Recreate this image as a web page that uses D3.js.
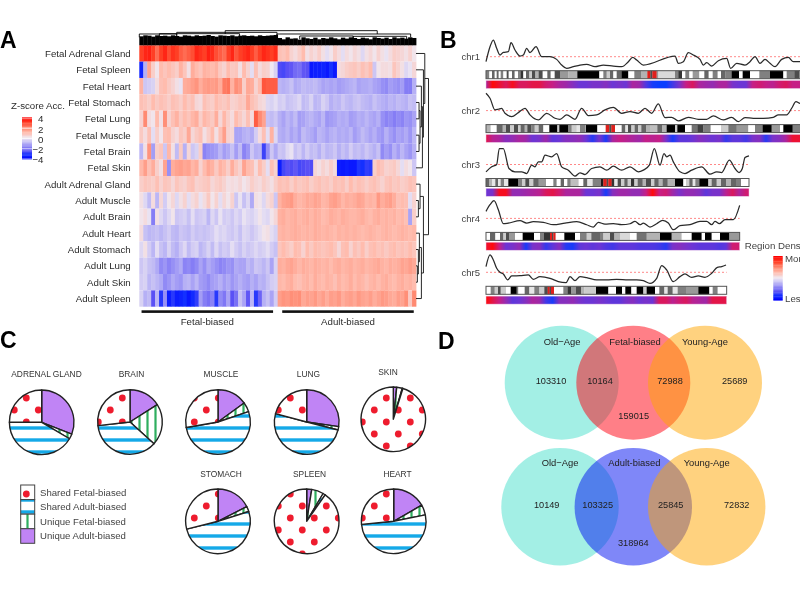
<!DOCTYPE html>
<html><head><meta charset="utf-8">
<script src="https://d3js.org/d3.v7.min.js"></script>
<style>html,body{margin:0;padding:0;background:#fff}svg{display:block;filter:blur(.45px)}text{font-family:"Liberation Sans",Arial,sans-serif}</style>
</head><body><svg id="c" width="800" height="600"></svg>
<script>
// ---------- Panel A data ----------
const tissueRows=["Fetal Adrenal Gland","Fetal Spleen","Fetal Heart","Fetal Stomach","Fetal Lung","Fetal Muscle","Fetal Brain","Fetal Skin","Adult Adrenal Gland","Adult Muscle","Adult Brain","Adult Heart","Adult Stomach","Adult Lung","Adult Skin","Adult Spleen"];
const zFetalAdrenal=[3,3.4,3.5,3,2.4,3,3.4,2.8,3.2,3,2.6,2.4,2.6,2.8,3.4,3.2,3,3.5,3.3,2.8,2.6,2.4,3,3.4,2.7,3,3.2,3.4,3,2.6,3,3.4,3.2,3,3.3,.9,.8,1,.5,.3,.6,1,.2,.5,.3,.6,.2,-.2,.1,.6,.3,-.2,.3,.1,.4,.2,-.3,.2,.4,.1,.5,.2,-.1,.3,.6,.5,.4,.2,.5,.1];
const zFetalSpleen=[-3.4,-1,1.5,.6,.1,1,.8,1,.8,.6,1.2,.8,.2,1.3,1,.8,1.2,1.1,1,1.2,.7,.5,1,.7,.8,.2,1,.5,-.2,.9,.3,.6,.5,0,-.4,-2.6,-2.7,-2.5,-2.4,-2.1,-2,-2.4,-2.5,-3.6,-3.5,-3.5,-3.4,-3.6,-3.2,-3.6,.3,.4,.6,.7,.8,.6,.9,.7,1,-.6,.1,.3,.3,.2,.8,.5,.2,-.3,-.1,.4];
const zFetalHeart=[1.2,-.6,-.5,-.4,.3,.9,1,.7,.5,.2,-.1,1.3,1.4,1.6,1.8,1.3,1.6,1.7,1.6,1.7,1.3,2.2,2.3,1.2,1.9,1.7,.6,1.4,1.3,.5,1,2.7,2.6,2.6,2.6,-.9,-1,-.9,-.7,-1.1,-1,-.8,-.9,-.9,-.8,-1,-1.2,-1.1,-1.2,-1.1,-1.3,-1.2,-1.1,-1,-.9,-1.2,-1.1,-1.1,-1,-1.2,-1.3,-1.5,-1.6,-1.3,-1.4,-1.5,-1.3,-1.8,-1.8,-1];
const zFetalStomach=[.9,.8,.6,1,.7,.9,.8,.6,.9,.8,.6,1,.7,.9,.4,.3,.9,.7,.6,1,.8,.7,.9,.5,.6,.8,.7,1.4,.9,.7,.4,.3,-.3,-.4,-.2,-.5,-.4,-.7,-.6,-.5,-.3,-.8,-.7,-.4,-.9,-.8,-.4,-.6,-1,-.8,-.9,-.6,-.8,-.9,-.7,-.6,-.8,-.9,-1,-.7,-.9,-1,-1.1,-.9,-1,-.8,-.9,-1,-.7,-.8];
const zFetalLung=[.5,2,.3,.1,1,.2,1.9,.5,.9,1.2,.7,1,.8,1.1,1.3,.6,1.1,.9,.7,1.3,.4,1.1,.6,.3,1,.7,.4,.9,.3,2.6,2,1.5,-.7,-.8,-.6,-1,-1.2,-.9,-1.1,-.8,-1.3,-1.2,-1,-.9,-1.1,-1.2,-.9,-1.4,-1.3,-1.2,-1,-1.1,-1,-1.3,-1.2,-1,-1.1,-.9,-1.1,-1.2,-1,-1.5,-1.7,-1.6,-1.8,-1.6,-1.7,-1.4,-1.5,-1.2];
const zFetalMuscle=[.7,.3,.9,-.2,.6,.1,.9,1,.5,.3,.8,.6,1.4,.4,.7,.9,.2,.6,1,.2,.9,1.6,.5,.4,-1.2,-1.2,-1,-.9,-1.1,-.5,.3,.9,-.2,1.2,-.3,-1,-1.1,-.9,-1.2,-1,-1.3,-.8,-1,-1.1,-1.3,-.9,-1,-1.2,-1,-.9,-1.1,-1,-1.1,-.9,-1.3,-1.1,-.8,-1,-1.2,-1,-1.3,-1.4,-1,-1.3,-1.5,-1.2,-1.3,-1.1,-1.4,-.9];
const zFetalBrain=[-.9,.2,1.8,-1.3,.6,.8,-.6,1.1,.2,-.8,.7,-1,.4,-.6,-.4,.6,-1.7,-1.5,-1.4,-1.3,-.9,-1.3,-1.1,-.7,-1.3,-.8,-1.7,-1.4,-.6,-1,-.9,-2.8,-1.5,-.6,-1.1,-.6,-.7,-.3,-.1,-.7,-.5,-.9,-.5,-.8,-.7,-1,-.6,-.9,-.8,-.6,-1,-.7,-.9,-.5,-.8,-.7,-.9,-.6,-.8,-1,-.7,-1.6,-1.3,-1.5,-1,-1.3,-.9,-1.2,-1.4,-1];
const zFetalSkin=[1.1,1.6,.9,1.3,.6,.2,1.5,-1.5,1.3,1.5,1.6,1.4,1.5,1.1,1.3,.5,1,1.4,1.2,.7,1.2,1,.6,1.3,.8,.5,1.5,1,.9,.3,1,.6,-.2,.9,.5,-3.5,-2.7,-2.5,-2.6,-2.4,-2.7,-2.6,-2.5,-2.6,.4,.2,.5,.3,.6,.3,-3.5,-3.6,-3.5,-3.6,-3.6,-3.1,-3.2,-2.9,-3,.6,1,.8,.5,.6,.7,.4,-.2,.3,.1,-.6];
const zAdultAdrenal=[.6,.8,.7,.6,.9,.5,.8,.7,.4,.8,.6,.5,.8,.9,.5,.6,.7,.8,.4,.6,.7,.5,.2,.3,.2,.4,.1,.3,.6,.4,.3,.6,.4,.2,.6,.9,.8,.9,.6,.9,.7,.8,.9,.6,.8,.9,.7,.8,.6,.9,.8,.9,.6,1,.7,.9,.8,.6,.8,.9,.7,.5,.8,.9,.7,.8,.6,.7,.9,.8];
const zAdultMuscle=[.2,-.3,-.8,.3,-.9,.4,-.5,.1,.4,-.3,.2,.5,-.2,.3,.5,-.1,.3,.7,.1,.5,-.2,.4,.1,.5,-.6,-.1,-.7,-.3,-1.1,.2,.1,-.3,.3,.5,-.6,1.2,1.5,1.6,1.7,1.3,1.1,1.2,1.4,1.3,1.5,1.4,1.1,1.2,1.5,1.6,1.4,1.1,1.3,1.2,1.3,1.5,1.4,1.1,1.2,1.1,1.7,1.3,1.5,1.6,1.3,.9,1,.9,-.2,.5];
const zAdultBrain=[.1,.3,-.1,-1.8,.2,-.3,-.6,-.3,.1,-.6,-.5,-.4,-.7,-.2,-.6,-.5,-.4,-.9,-.3,-.6,-.1,-.5,-.4,-.6,-.3,-.5,-.1,-.3,-.4,-.2,.1,-.2,-.3,.1,.4,1.2,1.3,1.1,1.2,1.3,1.1,1.2,1.3,1.1,1.3,1.2,1,1.1,1.3,1.2,1.1,1.3,1.2,1.1,1.1,1.2,1.3,1.1,1,1.2,1.3,1.1,1.2,1.1,1.2,1,1.1,.9,-1.2,.6];
const zAdultHeart=[.3,-.7,-.9,-.8,-.7,-.9,-.7,-.5,-.8,-.9,-.6,-.7,-.8,-.5,-.7,-.6,-.7,-.6,-.5,-.2,-.4,-.3,-.5,-.6,-.4,-.7,-.3,-.4,-.6,-.4,-.2,.1,.2,-.2,-.4,1.1,1.2,1.1,1.2,1.3,1.2,1.1,1.2,1.1,1.3,1.2,1.1,1.2,1.1,1,1.2,1.1,1.2,1.1,1.2,1.1,1,1.1,1.2,1.1,1,1.1,1.2,1.1,1,1.1,1.2,1.1,1,1.1];
const zAdultStomach=[-.3,.2,-.5,-.9,-.2,-.7,-.9,-.4,-.8,-1,-.6,-.3,-.8,-.5,-.4,-.9,-.7,-.4,-.8,-.3,-.7,-.5,-.6,-.2,-.5,-.7,-.4,-.6,-.5,-.3,-.5,-.4,-.2,-.5,-.7,.8,1,.8,.6,1,.9,.5,1,.7,1,.9,.8,.9,1,.8,.4,.9,1,.5,.9,.7,1,.6,.9,1,.8,.9,.7,.9,1,.8,.9,.8,1,.8];
const zAdultLung=[-.6,-.4,-.7,-.8,-1.1,-1.6,-1.4,-1.7,-1.5,-1.3,-1.1,-1.7,-1.6,-1.8,-1.6,-1.2,-1.5,-1.1,-1.3,-1.5,-1.7,-1.6,-1.4,-1.5,-1.1,-1.2,-1.2,-.8,-1,-.6,-.7,-.9,-.6,-1.2,-.4,1.3,1.2,1.4,1.5,1.3,1.1,1.3,1.2,1.1,1.3,1.2,1.1,1.2,1,1.2,1.3,1.1,1.2,1.3,1.1,1.2,1.3,1.1,1.2,1.3,1.4,1.2,1.1,1.3,1.2,1.3,1.5,1.4,1.6,1.4];
const zAdultSkin=[-.5,-.4,-.9,-.7,-.9,-1.1,-1.6,-1.4,-1.1,-1.3,-1.4,-1,-.9,-1.2,-.9,-1.3,-1.4,-1.6,-1.3,-1.2,-1,-1.3,-1.1,-1.4,-1.2,-1,-1.2,-1.3,-1,-1.2,-.9,-1,-.7,-.5,-.4,1.1,1,1.2,1.3,1,.9,1.1,1.2,1,1.3,1.1,1,1.2,1.1,.9,1.2,1,1.1,1.3,1,1.2,1.1,.9,1.1,1.2,1,1.2,1.3,1.1,1,1.2,1.3,1.1,1.2,1];
const zAdultSpleen=[-.4,-1,-.8,-2.5,-.9,-3,-1.5,-3.5,-3,-3.5,-3.4,-3.2,-3.6,-3.3,-2.9,-1.3,-1.8,-2,-1.7,-3,-1.6,-1.9,-1.2,-2.5,-2,-.7,-1.2,-2.4,-.9,-3,-2.2,-1,-.7,-1.2,-.5,1.6,1.8,1.7,1.9,1.8,1.9,1.4,1.6,1.5,1.7,1.4,1.6,1.3,1.6,1.5,1.7,1.3,1.5,1.6,1.4,1.7,1.5,1.4,1.6,1.3,1.5,1.7,1.6,1.4,1.3,1.6,1.5,1.9,.7,2];
const zRows=[zFetalAdrenal,zFetalSpleen,zFetalHeart,zFetalStomach,zFetalLung,zFetalMuscle,zFetalBrain,zFetalSkin,zAdultAdrenal,zAdultMuscle,zAdultBrain,zAdultHeart,zAdultStomach,zAdultLung,zAdultSkin,zAdultSpleen];
const zTicks=[4,2,0,-2,-4];
const colMass=[27,30,29,26,30,28,29,27,30,28,26,30,29,27,30,28,29,31,28,26,30,29,28,30,27,29,30,28,29,27,30,28,29,30,31,22,18,24,20,21,17,24,21,19,23,18,22,20,24,21,18,23,20,24,22,19,23,21,18,24,22,20,23,19,24,21,23,20,24,22];
const colMerges=[[257,712,44],[112,412,39],[412,812,34],[0,112,34],[480,640,28],[640,800,27],[60,300,35]];
const rowTree={h:37,kids:[
 {h:26,kids:[0,{h:22,kids:[1,{h:19,kids:[{h:16,kids:[2,{h:12,kids:[{h:9,kids:[3,4]},{h:9,kids:[5,6]}]}]},7]}]}]},
 {h:22,kids:[{h:12,kids:[8,{h:7,kids:[9,10]}]},{h:16,kids:[{h:10,kids:[11,{h:7,kids:[12,{h:4,kids:[13,14]}]}]},15]}]}
]};
const biasGroups=["Fetal-biased","Adult-biased"];
// ---------- Panel B data: [position bin, signal above threshold] ----------
const chrNames=["chr1","chr2","chr3","chr4","chr5"];
const chr1Line=[[0,-15],[12,30],[22,50],[32,25],[42,5],[52,13],[67,15],[75,42],[87,20],[102,2],[112,5],[122,25],[132,12],[150,30],[167,0],[192,0],[212,-8],[227,-25],[242,-35],[262,-30],[282,-25],[302,-23],[327,-30],[352,-25],[382,-28],[407,-30],[427,-15],[440,-2],[452,-10],[472,-25],[567,2],[577,-20],[592,-15],[607,12],[622,5],[642,-8],[652,-25],[662,-18],[677,-28],[697,-12],[722,-5],[734,-35],[752,-20],[777,-25],[792,-15],[807,0],[822,-20],[837,-8],[852,-20],[867,-30],[887,-8],[907,-2],[922,-15],[942,-15],[1000,-15]];
const chr2Line=[[0,52],[12,37],[27,2],[37,4],[47,7],[57,-8],[77,-18],[97,-6],[117,7],[132,-13],[157,-28],[182,-8],[207,-23],[222,-26],[242,-13],[267,-26],[287,7],[307,-15],[332,-13],[357,2],[382,10],[407,-8],[432,-3],[457,-8],[477,7],[497,-8],[517,20],[537,-21],[557,-20],[577,-31],[607,-20],[637,-26],[662,-26],[682,-16],[712,-28],[737,-20],[757,-33],[777,-21],[802,-23],[832,-23],[862,-20],[877,-13],[902,-13],[917,7],[930,27],[942,22],[972,20]];
const chr3Line=[[0,-22],[17,-7],[32,0],[40,48],[52,48],[69,-12],[87,-22],[107,-22],[122,-27],[137,-2],[147,-7],[157,8],[167,8],[177,28],[197,23],[212,33],[227,-7],[247,-17],[267,-35],[282,-25],[297,-30],[317,-12],[342,-7],[362,-17],[382,-5],[407,-17],[432,-7],[457,-22],[472,-17],[490,-2],[505,48],[522,-2],[534,33],[542,23],[552,28],[562,8],[582,-22],[597,-27],[617,-17],[647,-7],[672,-29],[692,-22],[707,-24],[730,13],[747,-12],[759,-24],[769,-12],[777,21],[789,26]];
const chr4Line=[[0,21],[12,41],[24,53],[37,26],[52,-16],[67,-14],[102,-7],[122,-14],[142,-10],[172,-12],[202,-19],[237,-14],[272,-10],[302,-19],[322,-26],[337,-12],[357,-17],[382,-16],[407,-19],[432,-16],[447,-9],[462,-19],[472,-14],[492,-26],[512,-16],[530,-6],[547,-14],[562,-34],[582,-22],[612,-19],[642,-9],[662,-9],[677,-19],[687,-9],[700,-16],[717,-4],[742,-4],[761,39]];
const chr5Line=[[0,17],[12,52],[22,37],[32,12],[42,0],[52,-5],[65,-23],[77,-11],[102,-10],[127,-8],[142,-21],[162,-13],[192,-18],[217,-28],[240,-31],[252,-13],[267,-25],[282,-13],[302,-16],[332,-23],[362,-23],[392,-21],[427,-23],[452,-23],[472,-25],[492,-33],[512,-18],[527,20],[542,7],[562,-28],[582,-13],[597,-5],[617,-15],[637,-11],[657,-15],[677,-3],[694,15],[707,17],[720,22]];
// ideogram bands: [end bin, stain], stain -1 = centromere
const chr1Bands=[[10,.5],[18,0],[26,.6],[32,0],[38,.6],[44,0],[52,.5],[62,0],[68,.7],[78,0],[86,.6],[96,0],[104,.5],[112,.8],[120,0],[130,.6],[138,.2],[148,.7],[158,.3],[170,.7],[184,0],[194,.6],[206,0],[222,.7],[247,.4],[274,.3],[340,1],[352,0],[362,.5],[372,.2],[382,.6],[392,0],[407,.6],[427,1],[445,0],[465,.5],[484,.3],[493,-1],[499,.7],[512,-1],[517,.4],[567,.15],[577,.5],[588,.8],[598,0],[610,.5],[620,0],[640,.4],[655,0],[668,.6],[680,0],[695,.5],[705,0],[718,.6],[737,.5],[759,1],[770,0],[792,1],[820,0],[852,.5],[892,1],[902,0],[925,.5],[940,.7],[1000,.5]];
const chr2Bands=[[14,.3],[32,0],[50,.6],[60,.3],[72,.7],[84,.2],[96,.7],[104,.2],[116,.6],[124,.3],[136,.7],[146,.5],[158,.2],[172,.6],[190,0],[214,1],[220,.2],[247,1],[257,.5],[272,.2],[282,.1],[297,.5],[299,0],[334,1],[359,0],[370,-1],[376,.7],[387,-1],[407,0],[418,.6],[426,.1],[436,.7],[446,.2],[456,.6],[466,.2],[480,.6],[492,.3],[514,.25],[528,.6],[542,.3],[567,1],[574,.2],[597,1],[617,0],[634,.55],[652,.75],[674,.5],[705,0],[727,.2],[752,.55],[787,.4],[807,0],[830,.5],[857,1],[882,.4],[892,0],[920,1],[942,.5],[972,.4]];
const chr3Bands=[[10,.6],[18,.3],[28,.1],[36,.6],[44,.1],[54,.5],[67,.1],[97,1],[108,.5],[118,.2],[130,.7],[142,.2],[158,.6],[180,.4],[202,0],[212,.5],[224,0],[234,.6],[244,0],[254,.5],[278,.25],[292,0],[304,.6],[320,.1],[345,.5],[352,.9],[362,-1],[367,.7],[377,-1],[385,.8],[395,.1],[405,.7],[415,.2],[425,.6],[435,.2],[445,.8],[455,.2],[470,.6],[480,.3],[495,.7],[505,.2],[518,.6],[530,.3],[545,.6],[567,.3],[592,1],[600,0],[610,.2],[620,.6],[628,.1],[640,.5],[667,1],[677,.2],[692,.6],[705,.2],[720,.6],[735,.3],[750,.6],[765,.5],[789,0]];
const chr4Bands=[[12,0],[28,.6],[42,0],[52,.6],[60,.2],[70,.7],[87,.4],[110,0],[144,1],[162,0],[174,.5],[192,.8],[198,-1],[202,.7],[209,-1],[235,0],[267,1],[282,0],[302,.5],[316,.2],[342,.6],[352,.5],[372,.2],[385,.7],[402,.3],[432,.15],[452,0],[482,.55],[522,.3],[557,1],[587,.3],[617,0],[647,1],[657,0],[677,1],[702,0],[730,1],[761,.4]];
const chr5Bands=[[14,0],[26,.5],[36,.2],[44,.7],[60,.2],[74,0],[92,1],[97,.5],[116,0],[130,.6],[145,.1],[160,.5],[175,.2],[185,.7],[191,-1],[195,.7],[204,-1],[232,0],[245,.5],[255,.8],[270,.4],[285,.7],[295,.3],[330,.2],[367,1],[390,0],[408,1],[418,0],[436,1],[452,0],[472,1],[482,.2],[507,1],[520,0],[535,.6],[545,.1],[560,.6],[575,.1],[600,.5],[637,.4],[670,1],[680,0],[695,.5],[722,0]];
// region density, one value per 20 bins
const chr1Density=[.6,1,.9,.8,.95,.8,.8,.85,.85,.75,.7,.6,.55,.45,.35,.35,.4,.4,.45,.35,.4,.35,.6,.55,.25,.05,0,0,.2,.4,.7,.8,.6,.55,.5,.6,.6,.4,.35,.35,.7,.75,.7,.65,.75,.8,.7,.7];
const chr2Density=[.85,.65,.6,.45,.5,.6,.55,.35,.4,.55,.3,.35,.45,.45,.5,.35,.1,.4,.05,.6,.7,.65,.6,.55,.7,.65,.7,.4,.05,.3,.3,.35,.45,.4,.35,.4,.15,.3,.3,.2,.4,.45,.1,.4,.45,.6,.9,.9];
const chr3Density=[.35,.4,.95,.95,.5,.5,.55,.6,.65,.8,.85,.75,.6,.6,.6,.35,.35,.4,.05,.45,.55,.55,.5,.5,.7,1,.7,.75,.55,.4,.5,.5,.45,.3,.4,.4,.65,.8,.6,.75];
const chr4Density=[.9,1,.7,.35,.4,.5,.05,.4,.45,.15,.3,.45,.1,.05,.3,.35,.3,.35,.25,.2,.3,.3,.3,.25,.25,.25,.2,.1,.4,.45,.4,.35,.3,.3,.3,.25,.3,.75,.75];
const chr5Density=[1,.85,.7,.5,.3,.35,.45,.6,.55,.2,.05,.45,.45,.5,.4,.35,.35,.4,.35,.3,.3,.4,.45,.35,.4,.35,.8,.8,.65,.75,.8,.65,.6,.55,.85,.85,.85];
const chrLengths=[1000,972,789,761,722];
// ---------- Panel C data (percent) ----------
const pieCats=["Unique Adult-biased","Unique Fetal-biased","Shared Adult-biased","Shared Fetal-biased"];
const legendCats=["Shared Fetal-biased","Shared Adult-biased","Unique Fetal-biased","Unique Adult-biased"];
const pieNames=["ADRENAL GLAND","BRAIN","MUSCLE","LUNG","SKIN","STOMACH","SPLEEN","HEART"];
const pieAdrenal=[31,2.5,41.5,25], pieBrain=[16,20.7,36.5,26.8], pieMuscle=[15,4.8,52.5,27.7], pieLung=[27.3,1.7,50.2,20.8],
      pieSkin=[1.7,2.8,.3,95.2], pieStomach=[17.5,2.6,51,28.9], pieSpleen=[2.5,6,1.2,90.3], pieHeart=[16.7,5.1,51.7,26.5];
const pieValues=[pieAdrenal,pieBrain,pieMuscle,pieLung,pieSkin,pieStomach,pieSpleen,pieHeart];
// ---------- Panel D data ----------
const vennTopSets=["Old−Age","Fetal-biased","Young-Age"];
const vennBottomSets=["Old−Age","Adult-biased","Young-Age"];
const vennTopCounts=[103310,10164,72988,25689,159015];
const vennBottomCounts=[10149,103325,25845,72832,318964];

// ---------- Drawing ----------
const svg=d3.select("#c"), ink="#2b2b2b";
const letter=(t,x,y)=>svg.append("text").text(t).attr("x",x).attr("y",y).attr("font-size",23).attr("font-weight",700).attr("fill","#000");
letter("A",0,48);letter("B",440,48);letter("C",0,348);letter("D",438,349);

// --- A ---
const zColor=d3.scaleLinear().domain([-4,-3.2,-2.5,-1,0,1,2,3,4]).range(["#0000ff","#1430ff","#5a50f5","#b6b0f5","#efe8f2","#ffbcae","#ff8a72","#ff3f25","#ff0000"]).clamp(true);
const hx=d3.scaleBand().domain(d3.range(zRows[0].length)).range([139.3,416]);
const hy=d3.scaleBand().domain(tissueRows).range([45.3,306.7]);
const A=svg.append("g");
A.selectAll("g.r").data(zRows).join("g").attr("class","r").each(function(vals,i){
  d3.select(this).selectAll("rect").data(vals).join("rect")
   .attr("x",(d,j)=>hx(j)).attr("width",hx.bandwidth()+.4)
   .attr("y",hy(tissueRows[i])).attr("height",hy.bandwidth()).attr("fill",d=>zColor(d));
});
A.selectAll("text.rl").data(tissueRows).join("text").attr("class","rl").text(d=>d)
 .attr("x",130.7).attr("y",d=>hy(d)+hy.bandwidth()/2).attr("dy","0.35em").attr("text-anchor","end").attr("font-size",9.7).attr("fill",ink);
// column dendrogram
const dx=d3.scaleLinear().domain([0,828]).range([139.3,416]);
const dy=d3.scaleLinear().domain([0,46]).range([45.3,30]);
A.selectAll("rect.m").data(colMass).join("rect").attr("class","m").attr("x",(d,j)=>hx(j)).attr("width",hx.bandwidth()+.4)
 .attr("y",d=>dy(d)).attr("height",d=>dy(0)-dy(d)).attr("fill","#000");
A.selectAll("path.cm").data(colMerges).join("path").attr("class","cm")
 .attr("d",d=>`M${dx(d[0])},${dy(d[2]-10)}V${dy(d[2])}H${dx(d[1])}V${dy(d[2]-10)}`).attr("fill","none").attr("stroke","#000").attr("stroke-width",.9);
// row dendrogram
const rh=d3.scaleLinear().domain([0,37]).range([416,428.5]);
const rowCentre=i=>hy(tissueRows[i])+hy.bandwidth()/2;
(function walk(n){
  if(typeof n==="number")return {y:rowCentre(n),h:0};
  const a=walk(n.kids[0]),b=walk(n.kids[1]);
  A.append("path").attr("d",`M${rh(a.h)},${a.y}H${rh(n.h)}V${b.y}H${rh(b.h)}`).attr("fill","none").attr("stroke","#111").attr("stroke-width",.9);
  return {y:(a.y+b.y)/2,h:n.h};
})(rowTree);
// bias bars
const barX=d3.scaleBand().domain(biasGroups).range([139.3,416]).paddingInner(.065).paddingOuter(.016);
A.selectAll("rect.bb").data(biasGroups).join("rect").attr("class","bb").attr("x",d=>barX(d)).attr("width",barX.bandwidth())
 .attr("y",310.3).attr("height",2.6).attr("fill","#111");
A.selectAll("text.bt").data(biasGroups).join("text").attr("class","bt").text(d=>d).attr("x",d=>barX(d)+barX.bandwidth()/2).attr("y",324.5)
 .attr("text-anchor","middle").attr("font-size",9.7).attr("fill",ink);
// z legend
A.append("text").text("Z-score Acc.").attr("x",11).attr("y",109).attr("font-size",9.7).attr("fill",ink);
const ly=d3.scaleLinear().domain([4,-4]).range([117,158]);
const gradSteps=d3.range(4,-4.01,-.25);
A.selectAll("rect.zl").data(gradSteps).join("rect").attr("class","zl").attr("x",22).attr("width",10).attr("y",d=>ly(d)).attr("height",ly(3.7)-ly(4)).attr("fill",d=>zColor(d));
A.selectAll("line.zt").data(zTicks).join("line").attr("class","zt").attr("x1",22).attr("x2",32).attr("y1",d=>ly(d)+1).attr("y2",d=>ly(d)+1).attr("stroke","#fff").attr("stroke-width",.7);
A.selectAll("text.zt").data(zTicks).join("text").attr("class","zt").text(d=>String(d).replace("-","−"))
 .attr("x",43.5).attr("y",d=>ly(d)+2).attr("dy","0.35em").attr("text-anchor","end").attr("font-size",9.7).attr("fill",ink);

// --- B ---
const densColor=d3.scaleLinear().domain([0,.35,.7,1]).range(["#0a3cff","#6c35d5","#c61f86","#ff0a0a"]);
const chrX=d3.scaleLinear().domain([0,1000]).range([486,486+1000/3]);
const chrLines=[chr1Line,chr2Line,chr3Line,chr4Line,chr5Line], chrBands=[chr1Bands,chr2Bands,chr3Bands,chr4Bands,chr5Bands], chrDens=[chr1Density,chr2Density,chr3Density,chr4Density,chr5Density];
const trackBase=d3.scalePoint().domain(chrNames).range([56.7,272.3]);
const stainGray=d3.interpolateRgb("#ffffff","#000000");
const stainColor=s=>s<0?"#e0201c":stainGray(s);
const defs=svg.append("defs");
chrNames.forEach((name,i)=>{
  const base=trackBase(name), len=chrLengths[i], g=svg.append("g");
  const sy=d3.scaleLinear().domain([-60,60]).range([base+20,base-20]);
  g.append("text").text(name).attr("x",480).attr("y",base).attr("dy","0.35em").attr("text-anchor","end").attr("font-size",9.5).attr("fill","#444");
  g.append("line").attr("x1",chrX(0)).attr("x2",chrX(len)).attr("y1",base).attr("y2",base).attr("stroke","#ff6a6a").attr("stroke-width",.8).attr("stroke-dasharray","2,2");
  g.append("path").attr("d",d3.line().x(d=>chrX(d[0])).y(d=>sy(d[1])).curve(d3.curveMonotoneX)(chrLines[i])).attr("fill","none").attr("stroke","#2a2a2a").attr("stroke-width",1.25);
  const iy=base+14, ih=8;
  g.selectAll("rect.b").data(chrBands[i]).join("rect").attr("class","b")
   .attr("x",(d,k)=>chrX(k?chrBands[i][k-1][0]:0)).attr("width",(d,k)=>chrX(d[0])-chrX(k?chrBands[i][k-1][0]:0)+.2)
   .attr("y",iy).attr("height",ih).attr("fill",d=>stainColor(d[1]));
  g.append("rect").attr("x",chrX(0)).attr("width",chrX(len)-chrX(0)).attr("y",iy).attr("height",ih).attr("fill","none").attr("stroke","#555").attr("stroke-width",1);
  const grad=defs.append("linearGradient").attr("id","dg"+i).attr("gradientUnits","userSpaceOnUse").attr("x1",chrX(0)).attr("x2",chrX(len)).attr("y1",0).attr("y2",0);
  chrDens[i].forEach((v,k)=>grad.append("stop").attr("offset",Math.min(1,(k*20)/len)).attr("stop-color",densColor(v)));
  g.append("rect").attr("x",chrX(0)).attr("width",chrX(len)-chrX(0)).attr("y",iy+ih+1.8).attr("height",8).attr("fill",`url(#dg${i})`).attr("stroke","#eccdec").attr("stroke-width",.5);
});
svg.append("text").text("Region Density").attr("x",744.7).attr("y",246).attr("dy","0.35em").attr("font-size",9.7).attr("fill","#444");
const rl=d3.scaleLinear().domain([4,-4]).range([256,299]);
svg.selectAll("rect.rdl").data(gradSteps).join("rect").attr("class","rdl").attr("x",773.3).attr("width",9.4).attr("y",d=>rl(d)).attr("height",rl(3.7)-rl(4)).attr("fill",d=>zColor(d));
svg.selectAll("text.rdt").data(["More","Less"]).join("text").attr("class","rdt").text(d=>d).attr("x",785).attr("y",(d,i)=>i?299:259).attr("dy","0.35em").attr("font-size",9.7).attr("fill","#444");

// --- C ---
const pat=(id,w,h)=>defs.append("pattern").attr("id",id).attr("patternUnits","userSpaceOnUse").attr("width",w).attr("height",h);
const pDots=pat("pDots",24,24);
pDots.append("rect").attr("width",24).attr("height",24).attr("fill","#fff");
[[2.3,14],[14.3,2],[14.3,26],[26.3,14]].forEach(c=>pDots.append("circle").attr("cx",c[0]).attr("cy",c[1]).attr("r",3.4).attr("fill","#ee1c2e"));
const pBlue=pat("pBlue",12,12);
pBlue.append("rect").attr("width",12).attr("height",12).attr("fill","#fff");
pBlue.append("rect").attr("y",6.3).attr("width",12).attr("height",3.4).attr("fill","#14a9e8");
const pGreen=pat("pGreen",8,8);
pGreen.append("rect").attr("width",8).attr("height",8).attr("fill","#fff");
pGreen.append("rect").attr("x",2.4).attr("width",2.2).attr("height",8).attr("fill","#2fae5f");
const fillOf={"Unique Adult-biased":"#c084f5","Unique Fetal-biased":"url(#pGreen)","Shared Adult-biased":"url(#pBlue)","Shared Fetal-biased":"url(#pDots)"};
const pieCentres=[[41.7,422.3],[130,422],[218,422],[306.7,422],[393.3,419.3],[218,521.3],[306.7,521.3],[393.7,521.3]];
const titleY=[377,377,377,377,374.5,476.7,476.7,476.7], titleX=[46.5,131.5,221,308.5,388,221,309.5,397.5];
const pieGen=d3.pie().sort(null), pieR=32.3;
pieNames.forEach((nm,i)=>{
  const [cx,cy]=pieCentres[i];
  svg.selectAll("path.p"+i).data(pieGen(pieValues[i])).join("path").attr("class","p"+i)
   .attr("d",d=>{const gen=d3.path();gen.moveTo(cx,cy);gen.arc(cx,cy,pieR,d.startAngle-Math.PI/2,d.endAngle-Math.PI/2);gen.closePath();return gen.toString();})
   .attr("fill",(d,k)=>fillOf[pieCats[k]]).attr("stroke","#222").attr("stroke-width",1.4).attr("stroke-linejoin","round");
  svg.append("text").text(nm).attr("x",titleX[i]).attr("y",titleY[i]).attr("text-anchor","middle").attr("font-size",8.4).attr("fill","#333");
});
const lgY=d3.scaleBand().domain(legendCats).range([485,543.3]);
svg.selectAll("rect.lg").data(legendCats).join("rect").attr("class","lg").attr("x",20.7).attr("width",14).attr("y",d=>lgY(d)).attr("height",lgY.bandwidth())
 .attr("fill",d=>fillOf[d]).attr("stroke","#444").attr("stroke-width",1);
svg.selectAll("text.lgt").data(legendCats).join("text").attr("class","lgt").text(d=>d).attr("x",40).attr("y",d=>lgY(d)+lgY.bandwidth()/2).attr("dy","0.35em").attr("font-size",9.6).attr("fill","#444");

// --- D ---
function venn(sets,counts,cols,cy,r,xs,labelY,numX,numY,lowX,lowY,labelX){
  svg.selectAll(null).data(sets).join("circle").attr("cx",(d,i)=>xs[i]).attr("cy",cy).attr("r",r).attr("fill",(d,i)=>cols[i]).attr("fill-opacity",.5);
  svg.selectAll(null).data(sets).join("text").text(d=>d).attr("x",(d,i)=>labelX[i]).attr("y",labelY).attr("dy","0.35em").attr("text-anchor","middle").attr("font-size",9.4).attr("fill","#222");
  svg.selectAll(null).data(counts).join("text").text(d=>d).attr("x",(d,i)=>i<4?numX[i]:lowX).attr("y",(d,i)=>i<4?numY:lowY).attr("dy","0.35em").attr("text-anchor","middle").attr("font-size",9.2).attr("fill","#222");
}
venn(vennTopSets,vennTopCounts,["#47dfcb","#ff000f","#ffa500"],382.7,57,[561.7,633.3,705],342,[551,600,670,734.7],381,633.7,415.7,[562,635,705]);
venn(vennBottomSets,vennBottomCounts,["#47dfcb","#000ff2","#ffa500"],506.7,58.7,[560,633.3,706.7],462.3,[546.7,597.7,670.7,736.7],505,633.3,542.3,[560,634.3,706.7]);
</script></body></html>
